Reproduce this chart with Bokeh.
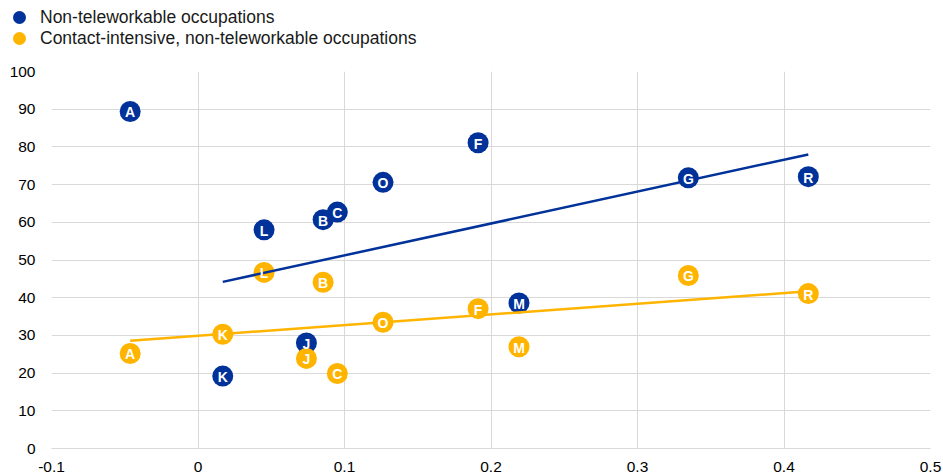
from bokeh.plotting import figure
from bokeh.layouts import column
from bokeh.models import (ColumnDataSource, Range1d, FixedTicker, NumeralTickFormatter, Div)
from bokeh.core.properties import value
from bokeh.embed import file_html
from bokeh.resources import INLINE

# ---- data ----
sectors = ["A", "B", "C", "F", "G", "J", "K", "L", "M", "O", "R"]
x_vals = [-0.0463, 0.0854, 0.0951, 0.1912, 0.3347, 0.0740, 0.0169, 0.0451, 0.2191, 0.1263, 0.4166]
non_tele = [89.4, 60.7, 62.7, 81.1, 71.8, 28.0, 19.2, 58.0, 38.6, 70.6, 72.1]
contact_tele = [25.2, 44.1, 19.9, 37.1, 45.9, 23.9, 30.3, 46.7, 27.0, 33.5, 41.1]

trend_blue_x = [0.0169, 0.4166]
trend_blue_y = [44.2, 78.0]
trend_orange_x = [-0.0463, 0.4166]
trend_orange_y = [28.6, 41.7]

x_ticks = [-0.1, 0.0, 0.1, 0.2, 0.3, 0.4, 0.5]
y_ticks = [0, 10, 20, 30, 40, 50, 60, 70, 80, 90, 100]

series_names = ["Non-teleworkable occupations",
                "Contact-intensive, non-teleworkable occupations"]

BLUE = "#003299"
ORANGE = "#FFB400"
GRID = "#d9d9d9"
FONT = "Liberation Sans"
colors = [BLUE, ORANGE]

src_b = ColumnDataSource(dict(x=x_vals, y=non_tele, t=sectors))
src_o = ColumnDataSource(dict(x=x_vals, y=contact_tele, t=sectors))

# ---------------- legend strip (HTML) ----------------
LEG_H = 60
rows = []
for i, (name, col) in enumerate(zip(series_names, colors)):
    cy = 17 + 21 * i
    rows.append(
        f'<div style="position:absolute;left:12.5px;top:{cy - 6.5}px;width:13px;height:13px;'
        f'border-radius:50%;background:{col};"></div>'
        f'<div style="position:absolute;left:40px;top:{cy - 10}px;height:20px;line-height:20px;'
        f'white-space:nowrap;">{name}</div>'
    )
legend_html = (f'<div style="position:relative;width:943px;height:{LEG_H}px;'
               f'font-family:\'{FONT}\',Arial,sans-serif;font-size:17.5px;color:#1a1a1a;">'
               + "".join(rows) + '</div>')
legend_div = Div(text=legend_html, width=943, height=LEG_H, margin=0)

# ---------------- main chart ----------------
p = figure(width=943, height=474 - LEG_H, output_backend="svg", toolbar_location=None,
           x_range=Range1d(-0.1, 0.5), y_range=Range1d(0, 100),
           min_border_left=51, min_border_right=13, min_border_top=71 - LEG_H,
           min_border_bottom=25, margin=0)
p.outline_line_color = None
p.background_fill_color = "white"
p.border_fill_color = "white"

# markers
rb = p.scatter("x", "y", source=src_b, size=21, fill_color=BLUE, line_color=None)
ro = p.scatter("x", "y", source=src_o, size=21, fill_color=ORANGE, line_color=None)

# trend lines
p.line(trend_blue_x, trend_blue_y, line_color=BLUE, line_width=2.5)
p.line(trend_orange_x, trend_orange_y, line_color=ORANGE, line_width=2.5)

# letters
for src in (src_b, src_o):
    p.text("x", "y", text="t", source=src, text_color="white", text_font=value(FONT),
           text_font_style="bold", text_font_size="14px", text_align="center",
           text_baseline="middle", y_offset=1)

# axes
p.xaxis.ticker = FixedTicker(ticks=x_ticks)
p.yaxis.ticker = FixedTicker(ticks=y_ticks)
p.xaxis.formatter = NumeralTickFormatter(format="0.[0]")
for ax in (p.xaxis[0], p.yaxis[0]):
    ax.major_tick_line_color = None
    ax.minor_tick_line_color = None
    ax.major_label_text_font = FONT
    ax.major_label_text_font_size = "15.5px"
    ax.major_label_text_color = "#000000"
p.yaxis.axis_line_color = None
p.xaxis.axis_line_color = GRID
p.yaxis.major_label_standoff = 10
p.xaxis.major_label_standoff = 7

p.xgrid.ticker = FixedTicker(ticks=x_ticks)
p.ygrid.ticker = FixedTicker(ticks=y_ticks)
p.xgrid.grid_line_color = GRID
p.ygrid.grid_line_color = GRID

layout = column(legend_div, p, spacing=0)
open("out.html", "w").write(file_html(layout, INLINE))
